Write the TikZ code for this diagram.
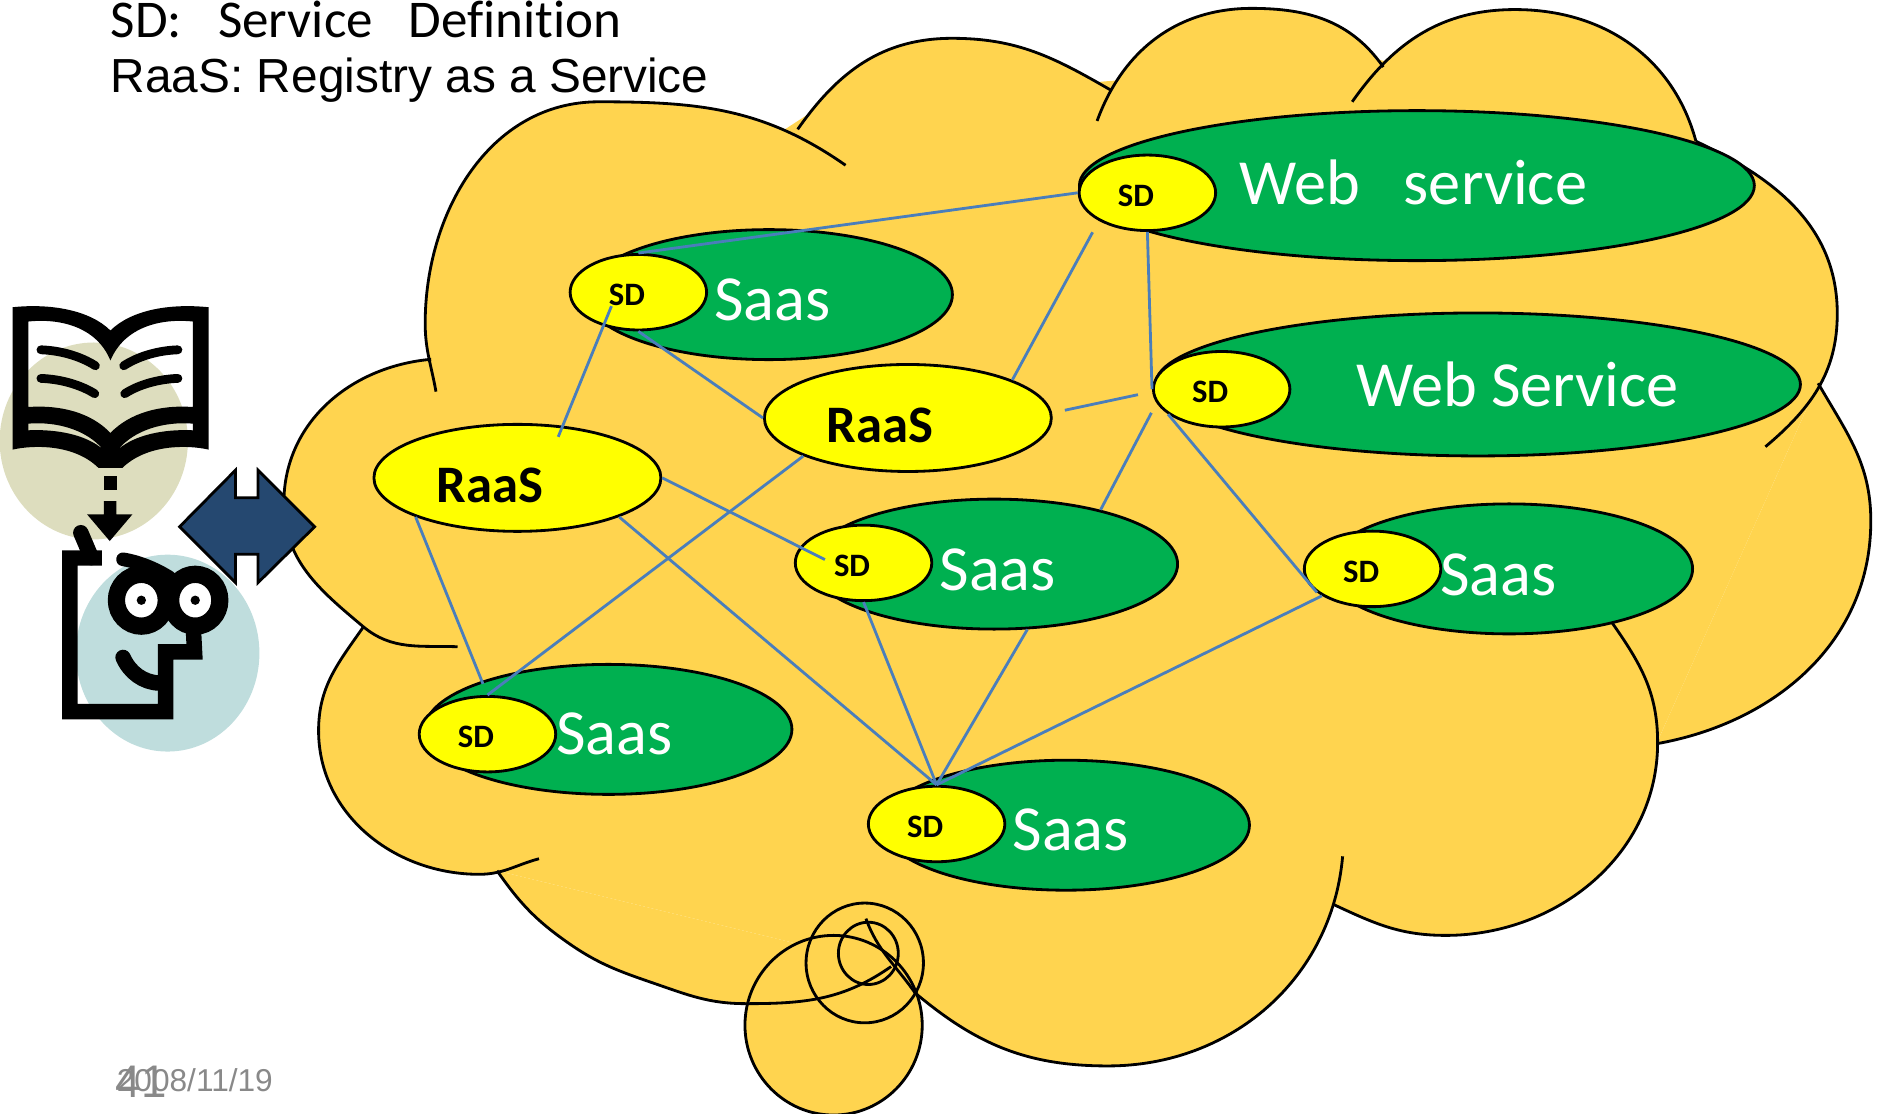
\documentclass[tikz,border=0pt]{standalone}
\usepackage{fontspec}
\setmainfont{Liberation Sans}
\newfontfamily\calfont[Ligatures=NoCommon]{Carlito}
\usetikzlibrary{shapes.geometric}
\definecolor{cloudfill}{HTML}{FFD44F}
\definecolor{svcgreen}{HTML}{00B050}
\definecolor{sdyellow}{HTML}{FFFF00}
\definecolor{linkblue}{HTML}{4A7EBB}
\definecolor{navyarrow}{HTML}{254870}
\definecolor{bookround}{HTML}{DDDDBE}
\definecolor{faceround}{HTML}{BFDDDD}
\definecolor{dategray}{HTML}{898989}
\tikzset{
	outline/.style={draw=black,line width=0.8pt},
	saas/.style={ellipse,outline,fill=svcgreen,inner sep=0pt,minimum width=3.67cm,minimum height=1.30cm},
	sdnode/.style={ellipse,outline,fill=sdyellow,inner sep=0pt,minimum width=1.365cm,minimum height=0.755cm},
	raas/.style={ellipse,outline,fill=sdyellow,inner sep=0pt,minimum width=2.87cm,minimum height=1.07cm},
	sdtext/.style={font=\calfont\bfseries\fontsize{9.3}{11}\selectfont,inner sep=0pt,xshift=-1.15mm,yshift=-0.3mm},
	raastext/.style={font=\calfont\bfseries\fontsize{15}{18}\selectfont,inner sep=0pt},
	svctext/.style={font=\calfont\fontsize{18.3}{22}\selectfont,text=white,inner sep=0pt},
	keytext/.style={font=\fontsize{13.6}{16}\selectfont,inner sep=0pt,anchor=base west},
	link/.style={draw=linkblue,line width=0.8pt},
	inkfat/.style={draw=black,line width=4.4pt,miter limit=4},
	inkthin/.style={draw=black,line width=2.5pt,line cap=round},
	eyering/.style={draw=black,fill=white,line width=4.9pt}
}
\newcommand{\lobefill}[1]{\fill[cloudfill] #1 -- cycle;}
\newcommand{\lobeline}[1]{\draw[outline] #1;}
\newcommand{\cloudlobes}[1]{%
	#1{(364,327) to[out=100,in=-90] (355,270) to[out=90,in=180] (500,85) to[out=0,in=145] (706,138)}
	#1{(666,108) to[out=55,in=180] (795,32) to[out=0,in=150] (927,75)}
	#1{(916,101) to[out=70,in=180] (1045,7) to[out=0,in=125] (1155,56)}
	#1{(1129,85) to[out=55,in=180] (1265,8) to[out=0,in=105] (1416,118)}
	#1{(1416,118) to[out=-25,in=90] (1534,262) to[out=-90,in=40] (1474,373)}
	#1{(1518,320) to[out=-60,in=90] (1562,435) to[out=-90,in=10] (1383,621)}
	#1{(1346,520) to[out=-55,in=90] (1384,620) to[out=-90,in=0] (1207,781) to[out=180,in=-25] (1113,755)}
	#1{(1121,715) to[out=-95,in=0] (925,890) to[out=180,in=-40] (764,829) to[out=125,in=-70] (723,767)}
	#1{(744,807) to[out=-145,in=0] (623,838) to[out=180,in=-19] (546,821) to[out=161,in=-35] (474,787) to[out=145,in=-55] (415,727)}
	#1{(450,717) to[out=195,in=0] (400,730) to[out=180,in=-90] (266,610) to[out=90,in=-125] (303,524)}
	#1{(382,540) to[out=178,in=-40] (303,523) to[out=140,in=-90] (237,420) to[out=90,in=185] (360,300)}
}
\begin{document}
\begin{tikzpicture}[x=0.011977cm,y=-0.011977cm]
	\useasboundingbox (0,0) rectangle (1568,930);
	\cloudlobes{\lobefill}
	\fill[cloudfill] (360,300) -- (680,92) -- (922,68) -- (1152,50) -- (1416,118) -- (1518,320) -- (1383,621) -- (1113,755) -- (748,808) -- (415,727) -- (303,524) -- cycle;
	\draw[outline,fill=cloudfill] (696,856) ellipse [x radius=74,y radius=75];
	\cloudlobes{\lobeline}
	\draw[outline] (722,804) ellipse [x radius=49,y radius=50];
	\draw[outline] (725,796) ellipse [x radius=25,y radius=26];

	\node[saas,minimum width=6.75cm,minimum height=1.5cm] (webA) at (1183,155) {};
	\node[saas,minimum width=6.45cm,minimum height=1.43cm] (webB) at (1234,321) {};
	\node[svctext] (webAtext) at (1180,152) {Web\ \ \ service};
	\node[svctext] (webBtext) at (1267,321) {Web Service};
	\foreach \nm/\x/\y/\tx/\ty in {S1/642/246/645/250,S3/830/471/833/476,S4/1260/475/1251/480,S5/508/609/513/613,S6/890/689/894/693}{%
		\node[saas] (saas\nm) at (\x,\y) {};
		\node[svctext] (text\nm) at (\tx,\ty) {Saas};
	}
	\foreach \nm/\x/\y in {S1/533/244,S3/721/470,S4/1146/475,S5/407/613,S6/782/688,Wa/958/161,Wb/1020/325}{%
		\node[sdnode] (sd\nm) at (\x,\y) {};
		\node[sdtext] (sdtext\nm) at (\x,\y) {SD};
	}
	\node[raas] (raasA) at (432,399) {};
	\node[raas] (raasB) at (758,349) {};
	\node[raastext] (raasAtext) at (409,405) {RaaS};
	\node[raastext] (raasBtext) at (735,355) {RaaS};

	\draw[link] (sdWa.west) -- (sdS1.north);
	\draw[link,shorten <=-0.215cm,shorten >=-0.12cm] (sdS1.224) -- (raasA.49);
	\draw[link] (sdS1.south) -- (raasB.west);
	\draw[link,shorten >=0.13cm] (raasB.20) -- (sdWa.210);
	\draw[link,shorten <=0.13cm,shorten >=0.145cm] (raasB.2) -- (sdWb.182);
	\draw[link] (sdWa.south) -- (sdWb.west);
	\draw[link,shorten >=0.11cm] (saasS3.27) -- (sdWb.192);
	\draw[link] (sdWb.205) -- (sdS4.203);
	\draw[link] (sdS4.208) -- (sdS6.north);
	\draw[link] (saasS3.-63) -- (sdS6.north);
	\draw[link] (sdS3.south) -- (sdS6.north);
	\draw[link] (raasA.-21) -- (sdS6.north);
	\draw[link,shorten >=-0.28cm] (raasA.east) -- (sdS3.166);
	\draw[link] (raasB.200) -- (sdS5.north);
	\draw[link,shorten >=0.12cm] (raasA.201) -- (sdS5.north);

	\node[keytext,font=\calfont\fontsize{15.1}{18}\selectfont] (keySD) at (92,31) {SD:\ \ \ Service\ \ \ Definition};
	\node[keytext] (keyRaaS) at (92,77) {RaaS: Registry as a Service};
	\node[font=\fontsize{9}{11}\selectfont,text=dategray,inner sep=0pt,anchor=base west] (dateText) at (97,911) {2008/11/19};
	\node[font=\fontsize{13}{15}\selectfont,text=dategray,inner sep=0pt,anchor=base west] (pageNum) at (96,916) {41};

	\begin{scope}[shift={(0cm,-2.8cm)},x=0.003333cm,y=-0.003333cm]
		\fill[bookround] (282,484) ellipse [x radius=283,y radius=296];
		\fill[faceround] (504,1122) ellipse [x radius=276,y radius=296];
		\fill[black,even odd rule] (38,82) .. controls (150,70) and (270,90) .. (332,152) .. controls (395,90) and (510,70) .. (627,82) -- (627,510) .. controls (560,495) and (440,495) .. (368,565) -- (296,565) .. controls (225,495) and (105,495) .. (38,510) -- cycle
			(85,125) .. controls (180,115) and (290,140) .. (332,242) .. controls (375,140) and (485,115) .. (580,125) -- (580,382) .. controls (480,375) and (390,400) .. (332,460) .. controls (275,400) and (185,375) .. (85,382) -- cycle
			(85,432) -- (85,452) .. controls (170,448) and (260,465) .. (310,510) .. controls (260,450) and (170,425) .. (85,432) -- cycle
			(580,432) -- (580,452) .. controls (495,448) and (405,465) .. (355,510) .. controls (405,450) and (495,425) .. (580,432) -- cycle;
		\draw[inkthin] (123,210) .. controls (180,212) and (240,228) .. (287,258);
		\draw[inkthin] (123,296) .. controls (180,298) and (240,314) .. (285,342);
		\draw[inkthin] (535,210) .. controls (478,212) and (418,228) .. (372,258);
		\draw[inkthin] (535,296) .. controls (478,298) and (418,314) .. (375,342);
		\fill[black] (312,590) rectangle (351,633);
		\fill[black] (312,665) -- (350,665) -- (350,705) -- (398,705) -- (330,785) -- (262,705) -- (312,705) -- cycle;
		\draw[inkfat] (306,836) -- (210,836) -- (210,1298) -- (498,1298) -- (498,1118) -- (585,1118) -- (582,1060);
		\draw[inkfat,line cap=round] (243,760) -- (275,835);
		\draw[inkfat,line cap=round,line width=3.9pt] (370,840) .. controls (420,848) and (470,870) .. (510,895);
		\draw[inkfat,line cap=round] (370,1135) .. controls (390,1180) and (430,1210) .. (478,1212);
		\draw[eyering] (425,963) ellipse [x radius=75,y radius=78];
		\draw[eyering] (587,963) ellipse [x radius=74,y radius=78];
		\fill[black] (425,963) circle [radius=14];
		\fill[black] (587,963) circle [radius=14];
		\draw[black,fill=navyarrow,line width=0.8pt] (540,742) -- (708,572) -- (708,655) -- (776,655) -- (776,572) -- (946,742) -- (776,910) -- (776,825) -- (708,825) -- (708,910) -- cycle;
	\end{scope}
\end{tikzpicture}
\end{document}
